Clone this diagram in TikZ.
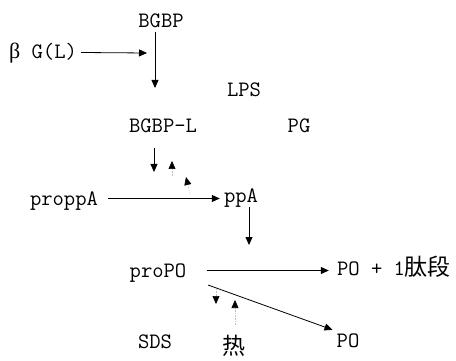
\documentclass[tikz,border=0pt]{standalone}
\usepackage{fontspec}
\newfontfamily\greekfont{Liberation Serif}
\newfontfamily\cjk{Noto Sans CJK SC}
\usetikzlibrary{arrows.meta}
\tikzset{
  lbl/.style={anchor=base, inner sep=4pt, text height=13pt, text depth=0pt,
    font=\ttfamily\fontsize{22}{26}\selectfont},
  arr/.style={line width=0.8pt, -{Triangle[length=8pt,width=7pt]}},
  stub/.style={draw=gray!50, line width=0.6pt, densely dotted,
    -{Triangle[length=8pt,width=7pt,color=black]}}
}
\begin{document}
\begin{tikzpicture}[x=1pt, y=-1pt]
			\useasboundingbox (0,0) rectangle (456,361);
			\foreach \n/\x/\y/\t in {bgbp/161/28/BGBP, bg/43/59/{{\greekfont β} G(L)}, lps/244/97/LPS,
				pg/299/133/PG, bgbpl/163/133/BGBP-L, proppa/64/205/proppA, ppa/241/203/ppA,
				propo/158/277/proPO, po/348/347/PO, sds/155/348/SDS}{
				\node[lbl] (\n) at (\x,\y) {\t};
			}
			\node[lbl] (pop) at (394,276) {PO + 1{\cjk\fontsize{23}{24}\selectfont 肽段}};
			\node[lbl] (re) at (234,354) {\cjk\fontsize{23}{24}\selectfont 热};

			\coordinate (bgend) at (147,53);
			\coordinate (bgbpend) at (155,88);
			\coordinate (actend) at (154,172);
			\coordinate (ppaend) at (249,245);
			\coordinate (dstart) at (208,285);
			\draw[arr] (bg.east) -- (bgend);
			\draw[arr] (bgbp.south -| bgbpend) -- (bgbpend);
			\draw[arr, shorten <=11pt] (bgbpl.south -| actend) -- (actend);
			\draw[arr, shorten <=6pt] (proppa.east) -- (proppa.east -| ppa.west);
			\draw[arr] (ppa.south -| ppaend) -- (ppaend);
			\draw[arr, shorten <=16pt, shorten >=4pt] (propo.east) -- (propo.east -| pop.west);
			\draw[arr] (dstart) -- (po.north west);

			% small tips
			\foreach \a/\ax/\ay/\bx/\by in {t1/172/176/172/161, t2/190/194/186/177, t3/216/289/216/304}{
				\coordinate (\a s) at (\ax,\ay);
				\coordinate (\a e) at (\bx,\by);
				\draw[stub] (\a s) -- (\a e);
			}
			\coordinate (t4e) at (235,300);
			\draw[stub, shorten <=12pt] (re.north -| t4e) -- (t4e);

		\end{tikzpicture}
\end{document}
